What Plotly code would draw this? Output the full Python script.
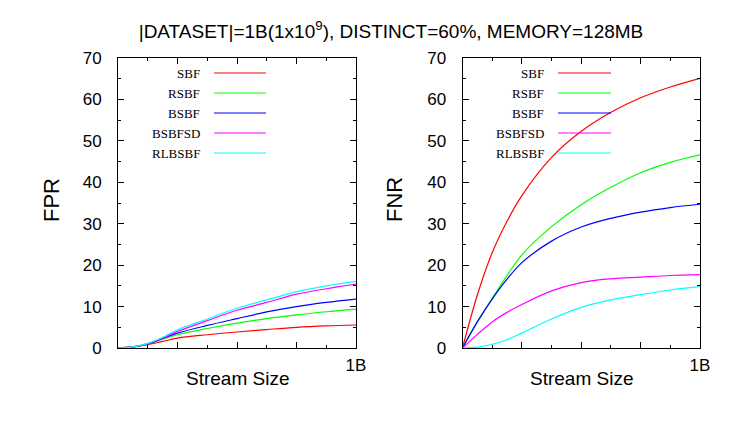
import plotly.graph_objects as go

# stream size as fraction of the 1B dataset
stream_size = [0, 0.0625, 0.125, 0.1875, 0.25, 0.375, 0.5, 0.625, 0.75, 0.875, 1.0]

filters = ["SBF", "RSBF", "BSBF", "BSBFSD", "RLBSBF"]
colors = ["#ff0000", "#00ff00", "#0000ff", "#ff00ff", "#00ffff"]

# false positive rate (%)
fpr_sbf = [0, 0.2, 0.8, 1.6, 2.4, 3.2, 3.86, 4.45, 5.0, 5.35, 5.55]
fpr_rsbf = [0, 0.25, 1.0, 2.1, 3.2, 4.7, 6.0, 7.1, 8.0, 8.75, 9.4]
fpr_bsbf = [0, 0.25, 1.0, 2.3, 3.6, 5.45, 7.1, 8.7, 10.0, 11.0, 11.8]
fpr_bsbfsd = [0, 0.25, 1.05, 2.4, 4.0, 6.6, 9.1, 11.0, 13.0, 14.3, 15.4]
fpr_rlbsbf = [0, 0.25, 1.1, 2.6, 4.4, 7.0, 9.6, 11.6, 13.6, 15.0, 16.1]

# false negative rate (%)
fnr_sbf = [0, 12.8, 23.0, 30.6, 36.8, 46.0, 52.3, 56.9, 60.4, 63.0, 65.1]
fnr_rsbf = [0, 6.3, 12.0, 17.5, 22.5, 29.3, 34.6, 38.8, 42.3, 44.8, 46.6]
fnr_bsbf = [0, 6.3, 11.8, 16.6, 20.6, 25.8, 29.2, 31.3, 32.8, 33.9, 34.7]
fnr_bsbfsd = [0, 3.3, 6.3, 8.6, 10.5, 13.8, 15.8, 16.7, 17.1, 17.5, 17.7]
fnr_rlbsbf = [0, 0.2, 0.9, 2.0, 3.6, 7.0, 9.8, 11.6, 12.9, 14.0, 14.8]

fpr = [fpr_sbf, fpr_rsbf, fpr_bsbf, fpr_bsbfsd, fpr_rlbsbf]
fnr = [fnr_sbf, fnr_rsbf, fnr_bsbf, fnr_bsbfsd, fnr_rlbsbf]

x_tickvals = [0, 0.25, 0.5, 0.75, 1.0]
x_ticktext = ["", "", "", "", "1B"]
y_tickvals = [0, 10, 20, 30, 40, 50, 60, 70]

W, H = 747, 432
PAGE_PAD = 8  # the page body margin shifts the figure
FONT = "Liberation Sans, Arial, Helvetica, sans-serif"
SERIF = "Liberation Serif, Times New Roman, serif"


def px(x):
    return (x - PAGE_PAD) / W


def py(y):
    return 1 - (y - PAGE_PAD) / H


panels = [
    dict(x0=118, x1=356, ylabel="FPR", ylabel_x=51, leg_text=202, leg_l0=214, leg_l1=266),
    dict(x0=462.5, x1=700, ylabel="FNR", ylabel_x=394, leg_text=546, leg_l0=558, leg_l1=611),
]
top, bottom = 58, 348
leg_rows = [73, 93, 113, 133, 153]

fig = go.Figure()
for k, series in enumerate([fpr, fnr]):
    xa = "x" if k == 0 else "x2"
    ya = "y" if k == 0 else "y2"
    for name, vals, c in zip(filters, series, colors):
        fig.add_trace(go.Scatter(x=stream_size, y=vals, mode="lines", name=name,
                                 line=dict(color=c, width=1.2, shape="spline", smoothing=1.0),
                                 xaxis=xa, yaxis=ya, showlegend=False, hoverinfo="skip"))

axis_common = dict(showgrid=False, zeroline=False, showline=True, linecolor="black", linewidth=1,
                   mirror="ticks", ticks="inside", tickcolor="black", ticklen=6, tickwidth=1,
                   automargin=False,
                   tickfont=dict(family=FONT, size=17, color="black"))

annotations = []
shapes = []
for k, p in enumerate(panels):
    sfx = "" if k == 0 else "2"
    fig.update_layout(**{
        "xaxis" + sfx: dict(axis_common, domain=[px(p["x0"]), px(p["x1"])], range=[0, 1],
                            tickvals=x_tickvals, ticktext=x_ticktext, anchor="y" + sfx,
                            ticklabelstandoff=2,
                            minor=dict(dtick=0.125, tick0=0, ticks="inside", ticklen=3,
                                       tickcolor="black", showgrid=False)),
        "yaxis" + sfx: dict(axis_common, domain=[py(bottom), py(top)], range=[0, 70],
                            tickvals=y_tickvals, anchor="x" + sfx, ticklabelstandoff=12,
                            minor=dict(dtick=5, tick0=0, ticks="inside", ticklen=3,
                                       tickcolor="black", showgrid=False)),
    })
    annotations.append(dict(text=p["ylabel"], x=px(p["ylabel_x"]), y=py(200), xref="paper", yref="paper",
                            xanchor="center", yanchor="middle",
                            showarrow=False, textangle=-90, font=dict(family=FONT, size=22, color="black")))
    annotations.append(dict(text="Stream Size", x=px((p["x0"] + p["x1"]) / 2), y=py(378),
                            xref="paper", yref="paper", showarrow=False,
                            xanchor="center", yanchor="middle",
                            font=dict(family=FONT, size=19, color="black")))
    for name, c, row in zip(filters, colors, leg_rows):
        annotations.append(dict(text=name, x=px(p["leg_text"]), y=py(row), xref="paper", yref="paper",
                                xanchor="right", yanchor="middle", showarrow=False,
                                font=dict(family=SERIF, size=13, color="black")))
        shapes.append(dict(type="line", xref="paper", yref="paper",
                           x0=px(p["leg_l0"]), x1=px(p["leg_l1"]), y0=py(row), y1=py(row),
                           line=dict(color=c, width=1.2)))

fig.update_layout(
    width=W, height=H,
    margin=dict(l=0, r=0, t=0, b=0),
    paper_bgcolor="white", plot_bgcolor="white",
    title=dict(text="|DATASET|=1B(1x10<sup>9</sup>), DISTINCT=60%, MEMORY=128MB",
               x=px(391), y=py(31), xanchor="center", yanchor="middle",
               font=dict(family=FONT, size=19, color="black")),
    annotations=annotations,
    shapes=shapes,
)

fig.write_html("out.html")
